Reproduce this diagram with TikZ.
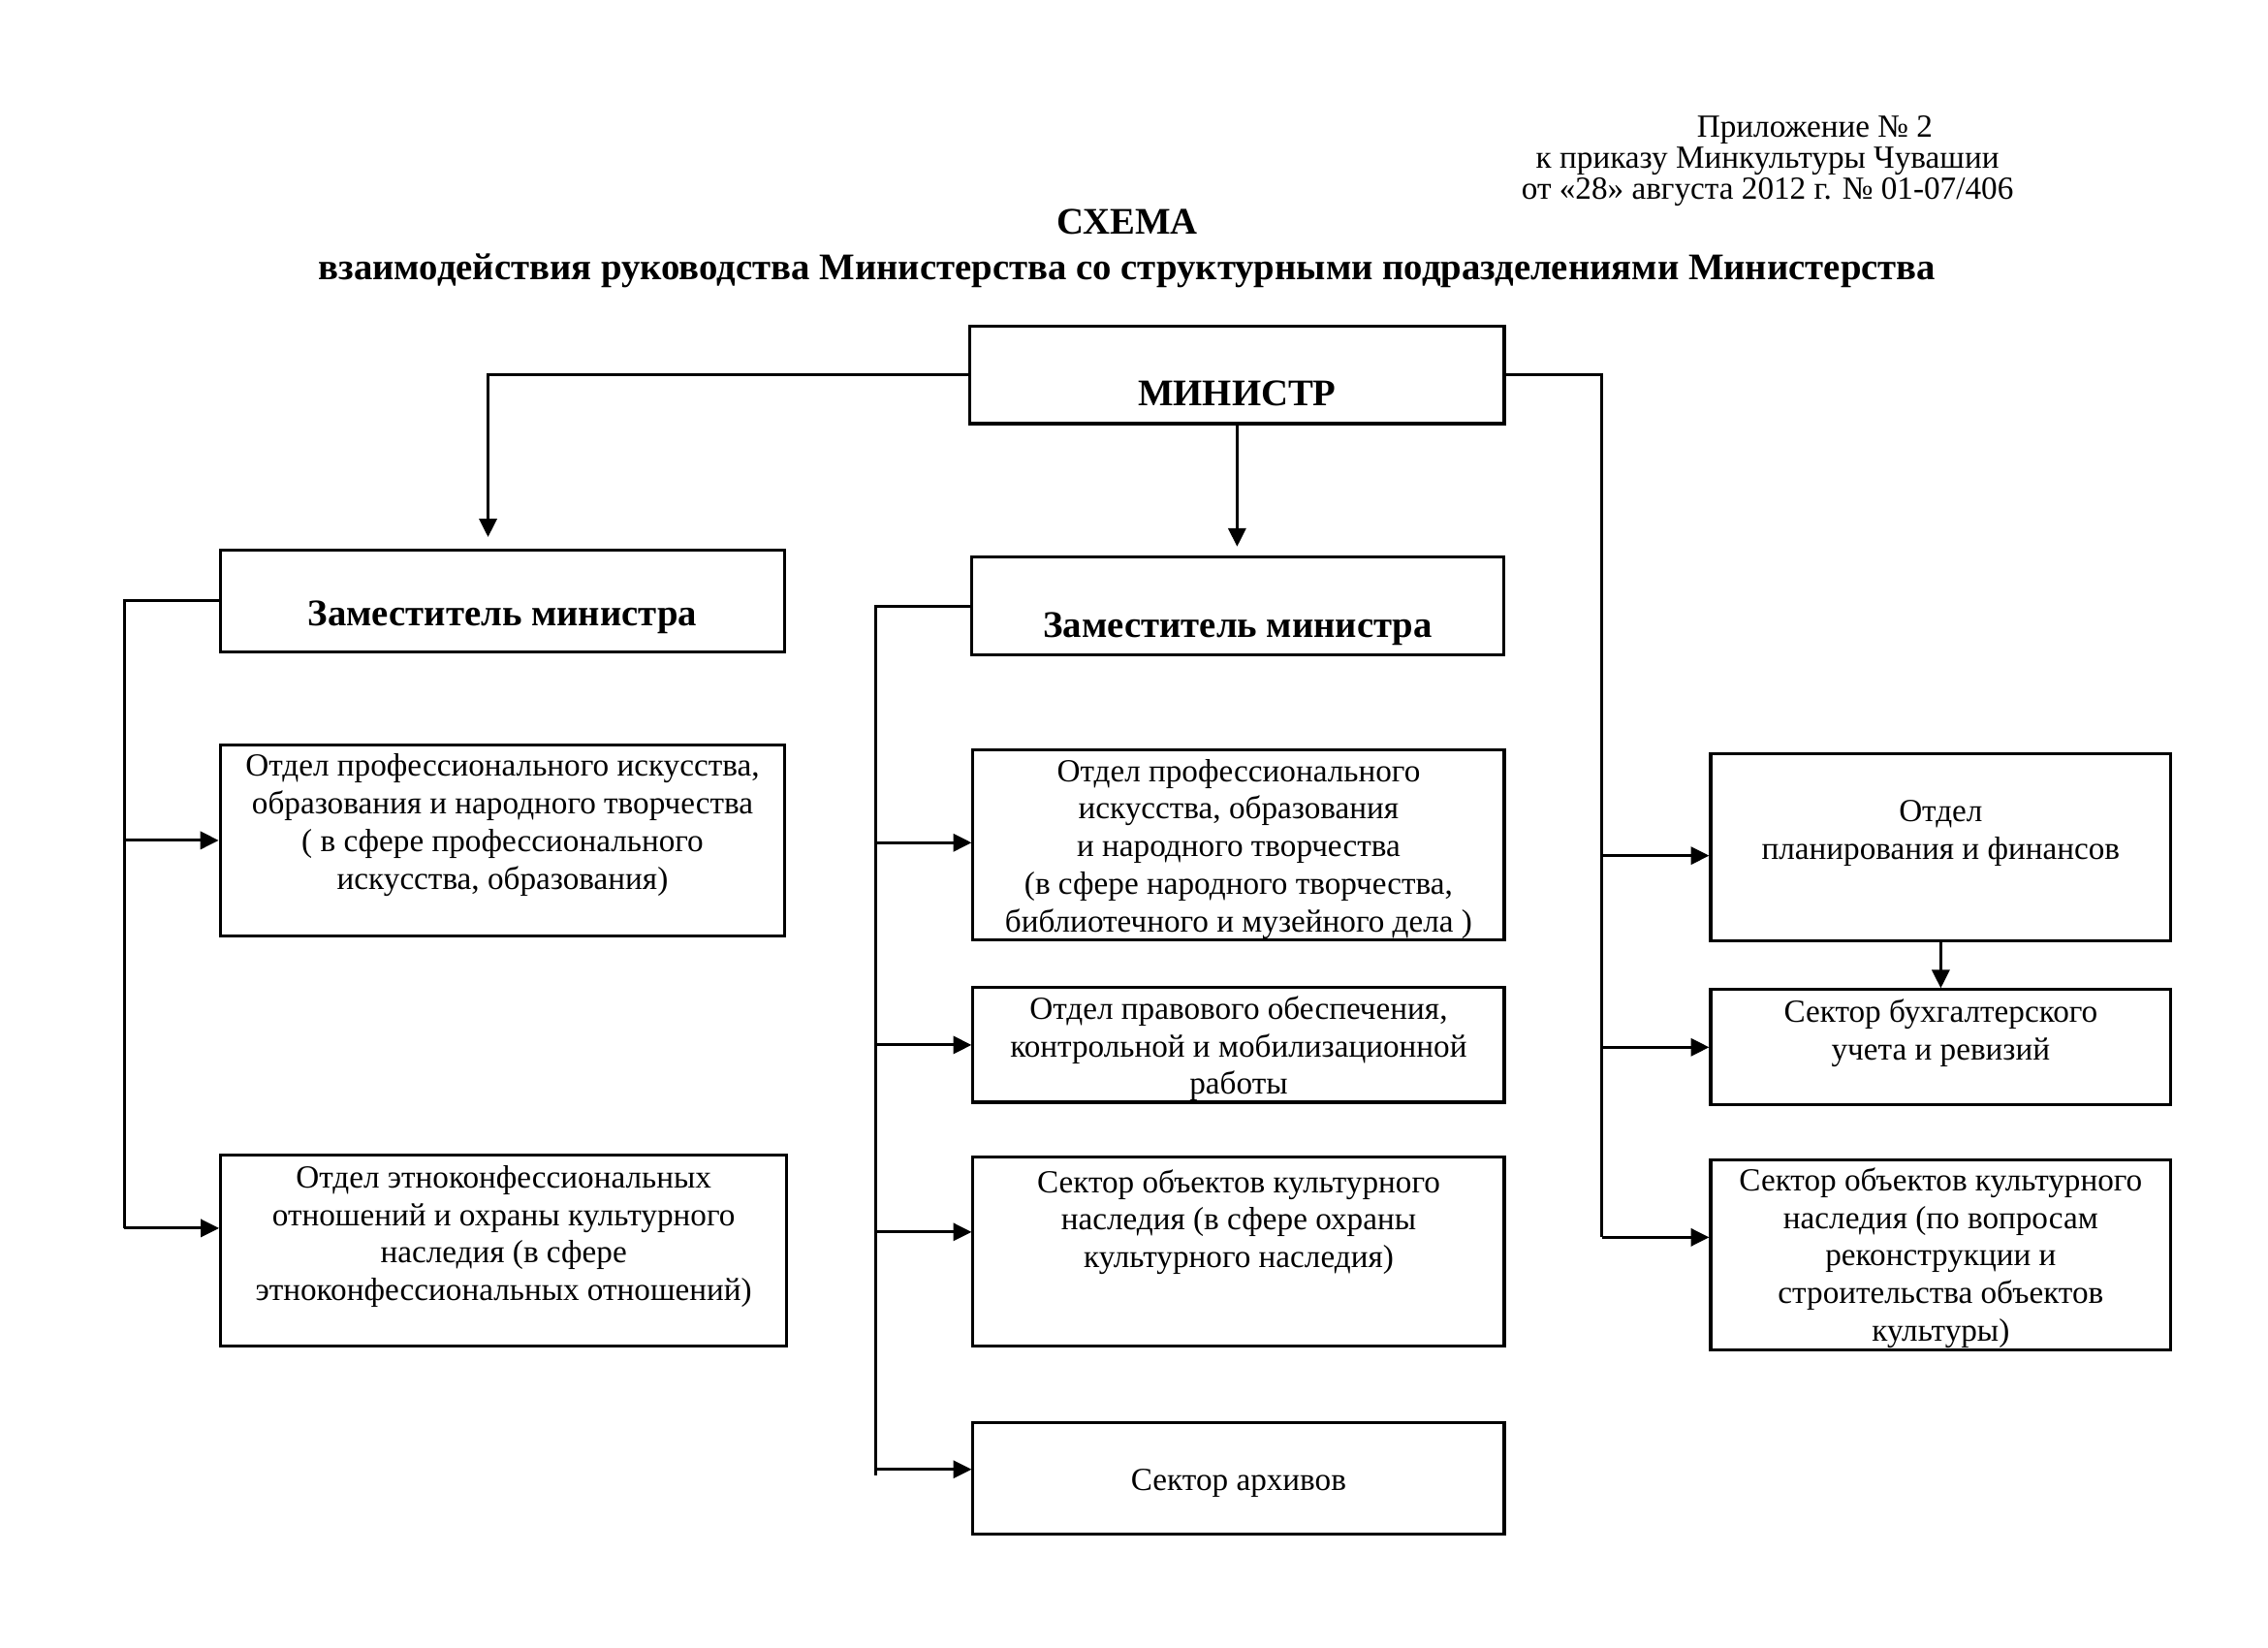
\documentclass[tikz,border=0pt]{standalone}
\usepackage{fontspec}
\setmainfont{Liberation Serif}
\usetikzlibrary{arrows.meta,positioning}

% box text: width, height, extra space below (lifts the text), text
\newcommand{\unittext}[4]{\parbox[c][#2][c]{#1}{\centering #4\par\vspace*{#3}}}

\tikzset{
  >=Triangle,
  % --- boxes ----------------------------------------------------------------
  unit/.style    = {draw, line width=1.1pt, inner sep=0pt,
                    font=\fontsize{12}{14}\selectfont},
  chief/.style   = {unit, font=\fontsize{14}{17}\selectfont\bfseries},
  % --- lines ----------------------------------------------------------------
  trunk/.style   = {line width=1.1pt},
  link/.style    = {line width=1.1pt, -{Triangle[length=2.4mm,width=2.3mm]}},
  % --- texts ----------------------------------------------------------------
  stamp/.style   = {font=\fontsize{12}{11.4}\selectfont, align=center},
  heading/.style = {font=\fontsize{14}{17}\selectfont\bfseries, align=center},
}

\begin{document}
\begin{tikzpicture}
\useasboundingbox (0,0) rectangle (29.718,21.59);

% ------------------------------- header ------------------------------------
\node[stamp] (stamp) at (23.16,19.48)
     {\hspace*{1.24cm}Приложение № 2\\ к приказу Минкультуры Чувашии\\
      от «28» августа 2012 г. № 01-07/406};
\node[heading] (title) at (14.77,18.33)
     {СХЕМА\\ взаимодействия руководства Министерства со структурными подразделениями Министерства};

% ------------------------------- chiefs ------------------------------------
\node[chief] (min) at (16.21,16.68) {\unittext{7.00cm}{1.28cm}{-0.48cm}{МИНИСТР}};
\node[chief] (ld)  at (6.585,13.72) {\unittext{7.40cm}{1.33cm}{-0.44cm}{Заместитель министра}};
\node[chief] (md)  at (16.22,13.65) {\unittext{6.97cm}{1.28cm}{-0.60cm}{Заместитель министра}};

% ---------------------------- left branch ----------------------------------
\node[unit] (l1) at (6.585,10.58) {\unittext{7.40cm}{2.51cm}{0.40cm}
      {Отдел профессионального искусства,\\ образования и народного творчества\\
       ( в сфере профессионального\\ искусства, образования)}};
\node[unit] (l2) at (6.60,5.21) {\unittext{7.42cm}{2.50cm}{0.36cm}
      {Отдел этноконфессиональных\\ отношений и охраны культурного\\
       наследия (в сфере\\ этноконфессиональных отношений)}};

% --------------------------- middle branch ---------------------------------
\node[unit] (m1) at (16.23,10.52) {\unittext{6.96cm}{2.49cm}{-0.10cm}
      {Отдел профессионального\\ искусства, образования\\ и народного творчества\\
       (в сфере народного творчества,\\ библиотечного и музейного дела )}};
\node[unit] (m2) at (16.23,7.90) {\unittext{6.96cm}{1.50cm}{-0.10cm}
      {Отдел правового обеспечения,\\ контрольной и мобилизационной\\ работы}};
\node[unit] (m3) at (16.23,5.19) {\unittext{6.96cm}{2.48cm}{0.78cm}
      {Сектор объектов культурного\\ наследия (в сфере охраны\\ культурного наследия)}};
\node[unit] (m4) at (16.23,2.22) {\unittext{6.96cm}{1.46cm}{-0.12cm}{Сектор архивов}};

% ---------------------------- right branch ---------------------------------
\node[unit] (r1) at (25.43,10.49) {\unittext{6.03cm}{2.46cm}{0.36cm}
      {Отдел\\ планирования и финансов}};
\node[unit] (r2) at (25.43,7.87) {\unittext{6.03cm}{1.51cm}{0.38cm}
      {Сектор бухгалтерского\\ учета и ревизий}};
\node[unit] (r3) at (25.43,5.15) {\unittext{6.03cm}{2.48cm}{-0.08cm}
      {Сектор объектов культурного\\ наследия (по вопросам\\ реконструкции и\\
       строительства объектов\\ культуры)}};

% ------------------------------- links -------------------------------------
\coordinate (ltrunk) at (1.63,0);
\coordinate (mtrunk) at (11.48,0);
\coordinate (rtrunk) at (20.99,0);

\draw[link, shorten >=0.15cm] (min.west) -| ([xshift=-0.19cm]ld.north);
\draw[link, shorten >=0.12cm] (min.south) -- (min.south |- md.north);

\foreach \u/\s/\t in {l1/0/ltrunk, l2/0.29/ltrunk,
                      m1/0.03/mtrunk, m2/0/mtrunk, m3/0.26/mtrunk, m4/0.12/mtrunk,
                      r1/-0.11/rtrunk, r2/0/rtrunk, r3/0.23/rtrunk}{
  \coordinate (in\u) at ([yshift=\s cm]\u.west);
  \draw[link] (\t |- in\u) -- (in\u);
}

\draw[trunk] (ld.west)  -| (ltrunk |- inl2);
\draw[trunk] (md.west)  -| ([yshift=-0.08cm]mtrunk |- inm4);
\draw[trunk] (min.east) -| (rtrunk |- inr3);
\draw[link] (r1.south) -- (r2.north);

\end{tikzpicture}
\end{document}
